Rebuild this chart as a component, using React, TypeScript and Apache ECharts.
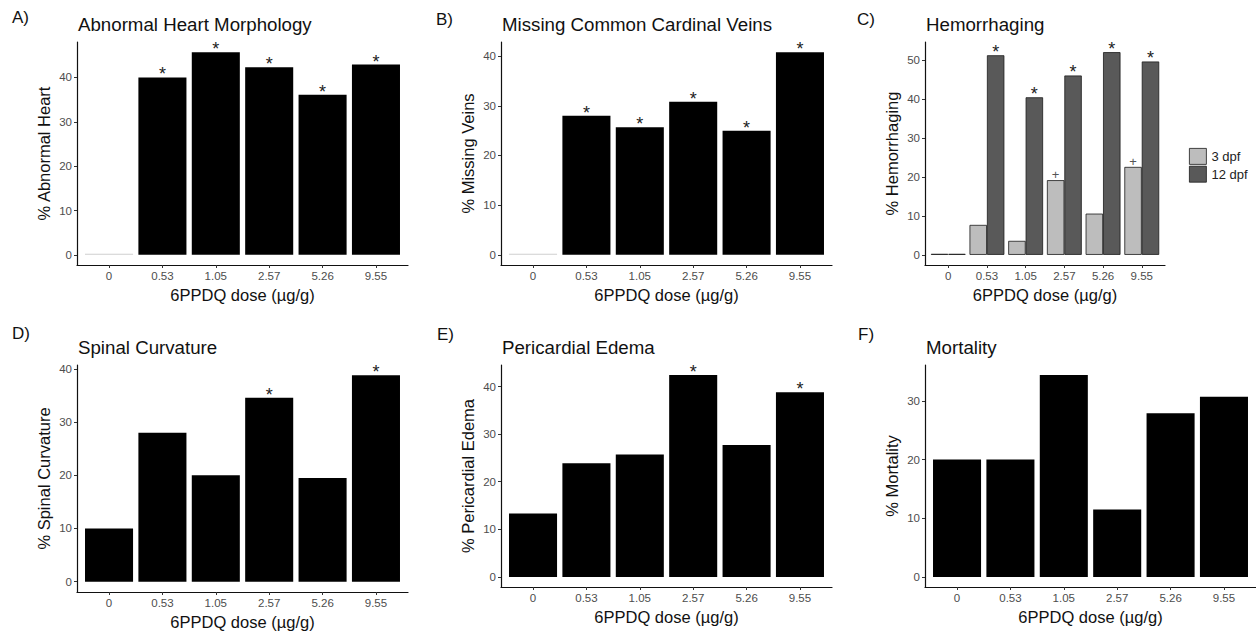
import React, { useEffect, useRef } from 'react';
import * as echarts from 'echarts';

const doses = ['0', '0.53', '1.05', '2.57', '5.26', '9.55'];

const heartValues = [0, 40.0, 45.7, 42.3, 36.1, 42.9];
const heartMarks = ['', '*', '*', '*', '*', '*'];

const veinValues = [0, 28.0, 25.7, 30.8, 25.0, 40.8];
const veinMarks = ['', '*', '*', '*', '*', '*'];

const hem3Values = [0, 7.7, 3.6, 19.2, 10.6, 22.6];
const hem3Marks = ['', '', '', '+', '', '+'];
const hem12Values = [0, 51.3, 40.5, 46.1, 52.1, 49.7];
const hem12Marks = ['', '*', '*', '*', '*', '*'];

const spinalValues = [10.0, 28.0, 20.0, 34.6, 19.5, 38.8];
const spinalMarks = ['', '', '', '*', '', '*'];

const edemaValues = [13.3, 23.9, 25.7, 42.4, 27.7, 38.8];
const edemaMarks = ['', '', '', '*', '', '*'];

const mortalityValues = [20.0, 20.0, 34.4, 11.5, 27.9, 30.7];
const mortalityMarks = ['', '', '', '', '', ''];

const ticks40 = [0, 10, 20, 30, 40];
const ticks50 = [0, 10, 20, 30, 40, 50];
const ticks30 = [0, 10, 20, 30];

const seriesNames = ['3 dpf', '12 dpf'];
const xName = '6PPDQ dose (µg/g)';

const FONT = "'Liberation Sans', Arial, Helvetica, sans-serif";

type SeriesDef = { name: string; values: number[]; marks: string[]; color: string; border?: boolean; markColor?: string };
type PanelDef = {
  letter: string;
  title: string;
  yName: string;
  yTicks: number[];
  grid: { left: number; top: number; width: number; height: number };
  letterPos: { left: number; top: number };
  titlePos: { left: number; top: number };
  series: SeriesDef[];
  dodge?: boolean;
};

const panels: PanelDef[] = [
  {
    letter: 'A)', title: 'Abnormal Heart Morphology', yName: '% Abnormal Heart', yTicks: ticks40,
    grid: { left: 77, top: 42, width: 331, height: 223 },
    letterPos: { left: 7, top: 4 }, titlePos: { left: 73, top: 10 },
    series: [{ name: 'heart', values: heartValues, marks: heartMarks, color: '#000' }],
  },
  {
    letter: 'B)', title: 'Missing Common Cardinal Veins', yName: '% Missing Veins', yTicks: ticks40,
    grid: { left: 501, top: 42, width: 331, height: 223 },
    letterPos: { left: 431, top: 6 }, titlePos: { left: 497, top: 10 },
    series: [{ name: 'veins', values: veinValues, marks: veinMarks, color: '#000' }],
  },
  {
    letter: 'C)', title: 'Hemorrhaging', yName: '% Hemorrhaging', yTicks: ticks50,
    grid: { left: 925, top: 42, width: 240, height: 223 },
    letterPos: { left: 852, top: 6 }, titlePos: { left: 921, top: 10 },
    dodge: true,
    series: [
      { name: seriesNames[0], values: hem3Values, marks: hem3Marks, color: '#bdbdbd', border: true, markColor: '#555' },
      { name: seriesNames[1], values: hem12Values, marks: hem12Marks, color: '#595959', border: true },
    ],
  },
  {
    letter: 'D)', title: 'Spinal Curvature', yName: '% Spinal Curvature', yTicks: ticks40,
    grid: { left: 77, top: 365, width: 331, height: 227 },
    letterPos: { left: 7, top: 320 }, titlePos: { left: 73, top: 333 },
    series: [{ name: 'spinal', values: spinalValues, marks: spinalMarks, color: '#000' }],
  },
  {
    letter: 'E)', title: 'Pericardial Edema', yName: '% Pericardial Edema', yTicks: ticks40,
    grid: { left: 501, top: 365, width: 331, height: 222 },
    letterPos: { left: 432, top: 321 }, titlePos: { left: 497, top: 333 },
    series: [{ name: 'edema', values: edemaValues, marks: edemaMarks, color: '#000' }],
  },
  {
    letter: 'F)', title: 'Mortality', yName: '% Mortality', yTicks: ticks30,
    grid: { left: 925, top: 365, width: 331, height: 222 },
    letterPos: { left: 853, top: 321 }, titlePos: { left: 921, top: 333 },
    series: [{ name: 'mortality', values: mortalityValues, marks: mortalityMarks, color: '#000' }],
  },
];

function buildOption() {
  const xIdx = doses.map((_, i) => i);
  const grids: any[] = [];
  const xAxes: any[] = [];
  const yAxes: any[] = [];
  const series: any[] = [];
  const titles: any[] = [];

  panels.forEach((p, i) => {
    grids.push({ ...p.grid, containLabel: false });
    const dmax = Math.max(...p.series.flatMap((s) => s.values));
    xAxes.push({
      type: 'value', gridIndex: i, min: -0.6, max: 5.6,
      splitLine: { show: false },
      axisLine: { show: true, onZero: false, lineStyle: { color: '#111', width: 1.2 } },
      axisTick: { show: true, customValues: xIdx, length: 3, lineStyle: { color: '#333' } },
      axisLabel: {
        customValues: xIdx, formatter: (v: number) => doses[Math.round(v)],
        color: '#4d4d4d', fontSize: 11.5, margin: 5, fontFamily: FONT,
      },
      name: xName, nameLocation: 'middle', nameGap: 21,
      nameTextStyle: { fontSize: 16.5, color: '#111', fontFamily: FONT },
    });
    yAxes.push({
      type: 'value', gridIndex: i, min: -0.05 * dmax, max: 1.05 * dmax,
      splitLine: { show: false },
      axisLine: { show: true, onZero: false, lineStyle: { color: '#111', width: 1.2 } },
      axisTick: { show: true, customValues: p.yTicks, length: 3, lineStyle: { color: '#333' } },
      axisLabel: { customValues: p.yTicks, color: '#4d4d4d', fontSize: 11.5, margin: 5, fontFamily: FONT },
      name: p.yName, nameLocation: 'middle', nameRotate: 90, nameGap: 25,
      nameTextStyle: { fontSize: 16.5, color: '#111', fontFamily: FONT },
    });
    p.series.forEach((s) => {
      const isPlus = s.marks.includes('+');
      series.push({
        type: 'bar', name: s.name, xAxisIndex: i, yAxisIndex: i,
        data: s.values.map((v, k) => [k, v]),
        barWidth: p.dodge ? '45%' : '90%',
        barGap: '0%',
        barMinHeight: 1,
        itemStyle: {
          color: s.border ? s.color : (prm: any) => (prm.value[1] === 0 ? '#cfcfcf' : s.color),
          borderColor: s.border ? '#1a1a1a' : undefined,
          borderWidth: s.border ? 0.8 : 0,
        },
        label: {
          show: true, position: 'top', distance: isPlus ? -1 : -6,
          formatter: (prm: any) => s.marks[prm.dataIndex],
          fontSize: isPlus ? 13 : 18, color: s.markColor || '#222', fontFamily: FONT,
        },
        emphasis: { disabled: true },
      });
    });
    titles.push({
      text: p.title, left: p.titlePos.left, top: p.titlePos.top,
      textStyle: { fontSize: 18.7, fontWeight: 'normal', color: '#111', fontFamily: FONT },
    });
    titles.push({
      text: p.letter, left: p.letterPos.left, top: p.letterPos.top,
      textStyle: { fontSize: 17, fontWeight: 'normal', color: '#111', fontFamily: FONT },
    });
  });

  return {
    animation: false,
    backgroundColor: '#fff',
    title: titles,
    grid: grids,
    xAxis: xAxes,
    yAxis: yAxes,
    series,
    legend: {
      data: seriesNames, orient: 'vertical', left: 1189, top: 148, padding: 0,
      itemWidth: 17, itemHeight: 16, itemGap: 1,
      icon: 'rect',
      itemStyle: { borderColor: '#1a1a1a', borderWidth: 0.8 },
      textStyle: { fontSize: 13, color: '#222', fontFamily: FONT },
      selectedMode: false,
    },
  };
}

export default function App() {
  const ref = useRef<HTMLDivElement>(null);
  useEffect(() => {
    document.body.style.margin = '0';
    if (!ref.current) return;
    const chart = echarts.init(ref.current, undefined, { renderer: 'svg' });
    chart.setOption(buildOption() as any);
    return () => chart.dispose();
  }, []);
  return <div ref={ref} style={{ width: 1256, height: 632 }} />;
}
